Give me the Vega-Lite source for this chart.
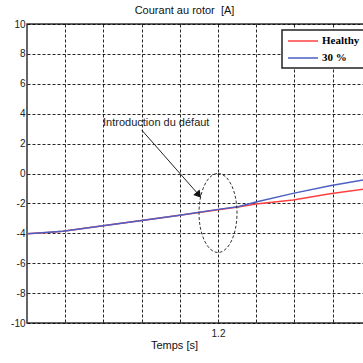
{
  "$schema": "https://vega.github.io/schema/vega-lite/v6.json",
  "width": 337,
  "height": 299,
  "autosize": {"type": "none"},
  "padding": {"left": 27, "top": 24, "right": 0, "bottom": 40},
  "background": "white",
  "config": {
    "view": {"stroke": "#333", "strokeWidth": 1.5},
    "font": "Liberation Sans"
  },
  "title": {"text": "Courant au rotor\u00a0 [A]", "fontSize": 11, "fontWeight": "normal", "font": "Liberation Sans", "color": "#111", "offset": 3, "dx": -11},
  "datasets": {
    "curves": [
      {"t": 1.1, "i": -4.03, "s": "Healthy"},
      {"t": 1.1094, "i": -3.96, "s": "Healthy"},
      {"t": 1.1188, "i": -3.87, "s": "Healthy"},
      {"t": 1.1398, "i": -3.5, "s": "Healthy"},
      {"t": 1.1581, "i": -3.18, "s": "Healthy"},
      {"t": 1.18, "i": -2.8, "s": "Healthy"},
      {"t": 1.2, "i": -2.42, "s": "Healthy"},
      {"t": 1.2105, "i": -2.24, "s": "Healthy"},
      {"t": 1.2199, "i": -2.04, "s": "Healthy"},
      {"t": 1.2393, "i": -1.77, "s": "Healthy"},
      {"t": 1.2586, "i": -1.36, "s": "Healthy"},
      {"t": 1.2764, "i": -1.05, "s": "Healthy"},
      {"t": 1.1, "i": -4.03, "s": "30 %"},
      {"t": 1.1094, "i": -3.95, "s": "30 %"},
      {"t": 1.1188, "i": -3.86, "s": "30 %"},
      {"t": 1.1398, "i": -3.49, "s": "30 %"},
      {"t": 1.1581, "i": -3.17, "s": "30 %"},
      {"t": 1.18, "i": -2.79, "s": "30 %"},
      {"t": 1.2, "i": -2.4, "s": "30 %"},
      {"t": 1.2105, "i": -2.22, "s": "30 %"},
      {"t": 1.2199, "i": -1.9, "s": "30 %"},
      {"t": 1.2393, "i": -1.33, "s": "30 %"},
      {"t": 1.2586, "i": -0.82, "s": "30 %"},
      {"t": 1.2764, "i": -0.42, "s": "30 %"}
    ],
    "arrow": [
      {"t": 1.16005, "i": 2.91},
      {"t": 1.18953, "i": -1.37}
    ],
    "head": [{"t": 1.18953, "i": -1.37}],
    "ellipse": [{"t": 1.2, "i": -2.64}],
    "note": [{"t": 1.1398, "i": 3.38, "label": "Introduction du défaut"}]
  },
  "encoding": {
    "x": {
      "field": "t", "type": "quantitative",
      "scale": {"domain": [1.1, 1.27644], "nice": false, "zero": false},
      "axis": {
        "values": [1.12, 1.14, 1.16, 1.18, 1.2, 1.22, 1.24, 1.26],
        "labelExpr": "abs(datum.value - 1.2) < 0.001 ? '1.2' : ''",
        "labelOverlap": false,
        "title": "Temps [s]",
        "titleFontSize": 11, "titleFontWeight": "normal", "titleColor": "#111",
        "titleX": 147, "titleY": 22, "titleBaseline": "middle", "titleAnchor": "start", "titleAlign": "center",
        "labelFontSize": 10, "labelColor": "#222", "labelPadding": 5,
        "ticks": false, "domain": false,
        "grid": true, "gridColor": "#000", "gridDash": [3, 2], "gridWidth": 1, "gridOpacity": 0.85
      }
    },
    "y": {
      "field": "i", "type": "quantitative",
      "scale": {"domain": [-10, 10], "nice": false},
      "axis": {
        "values": [-10, -8, -6, -4, -2, 0, 2, 4, 6, 8, 10],
        "labelExpr": "datum.value < 0 ? '-' + abs(datum.value) : '' + datum.value",
        "labelOverlap": false,
        "title": null,
        "labelFontSize": 10, "labelColor": "#222", "labelPadding": 2,
        "ticks": false, "domain": false,
        "grid": true, "gridColor": "#000", "gridDash": [3, 2], "gridWidth": 1, "gridOpacity": 0.85
      }
    }
  },
  "layer": [
    {
      "data": {"name": "curves"},
      "mark": {"type": "line", "strokeWidth": 1.5},
      "encoding": {
        "color": {
          "field": "s", "type": "nominal",
          "scale": {"domain": ["Healthy", "30 %"], "range": ["#ff4040", "#4b5fc4"]},
          "legend": {
            "title": null, "orient": "none", "legendX": 255, "legendY": 6,
            "symbolType": "M-3,0H3", "symbolSize": 100, "symbolStrokeWidth": 1.5, "symbolOffset": 10,
            "labelFont": "Liberation Serif", "labelFontWeight": "bold", "labelFontSize": 11, "labelColor": "#000",
            "fillColor": "white", "strokeColor": "#222",
            "padding": 5, "rowPadding": 6, "labelOffset": 13,
            "encode": {"legend": {"update": {"strokeWidth": {"value": 1.5}}}}
          }
        }
      }
    },
    {
      "data": {"name": "arrow"},
      "mark": {"type": "line", "color": "#222", "strokeWidth": 1}
    },
    {
      "data": {"name": "head"},
      "mark": {"type": "point", "shape": "triangle", "filled": true, "color": "#111", "size": 70, "angle": 139, "opacity": 1}
    },
    {
      "data": {"name": "ellipse"},
      "mark": {"type": "point", "shape": "M0,-1A0.481,1,0,1,1,0,1A0.481,1,0,1,1,0,-1Z", "size": 6241, "filled": false, "stroke": "#333", "strokeWidth": 1, "strokeDash": [3, 2], "opacity": 1}
    },
    {
      "data": {"name": "note"},
      "mark": {"type": "text", "align": "left", "baseline": "middle", "fontSize": 11, "color": "#222", "font": "Liberation Sans"},
      "encoding": {
        "text": {"field": "label"}
      }
    }
  ]
}
